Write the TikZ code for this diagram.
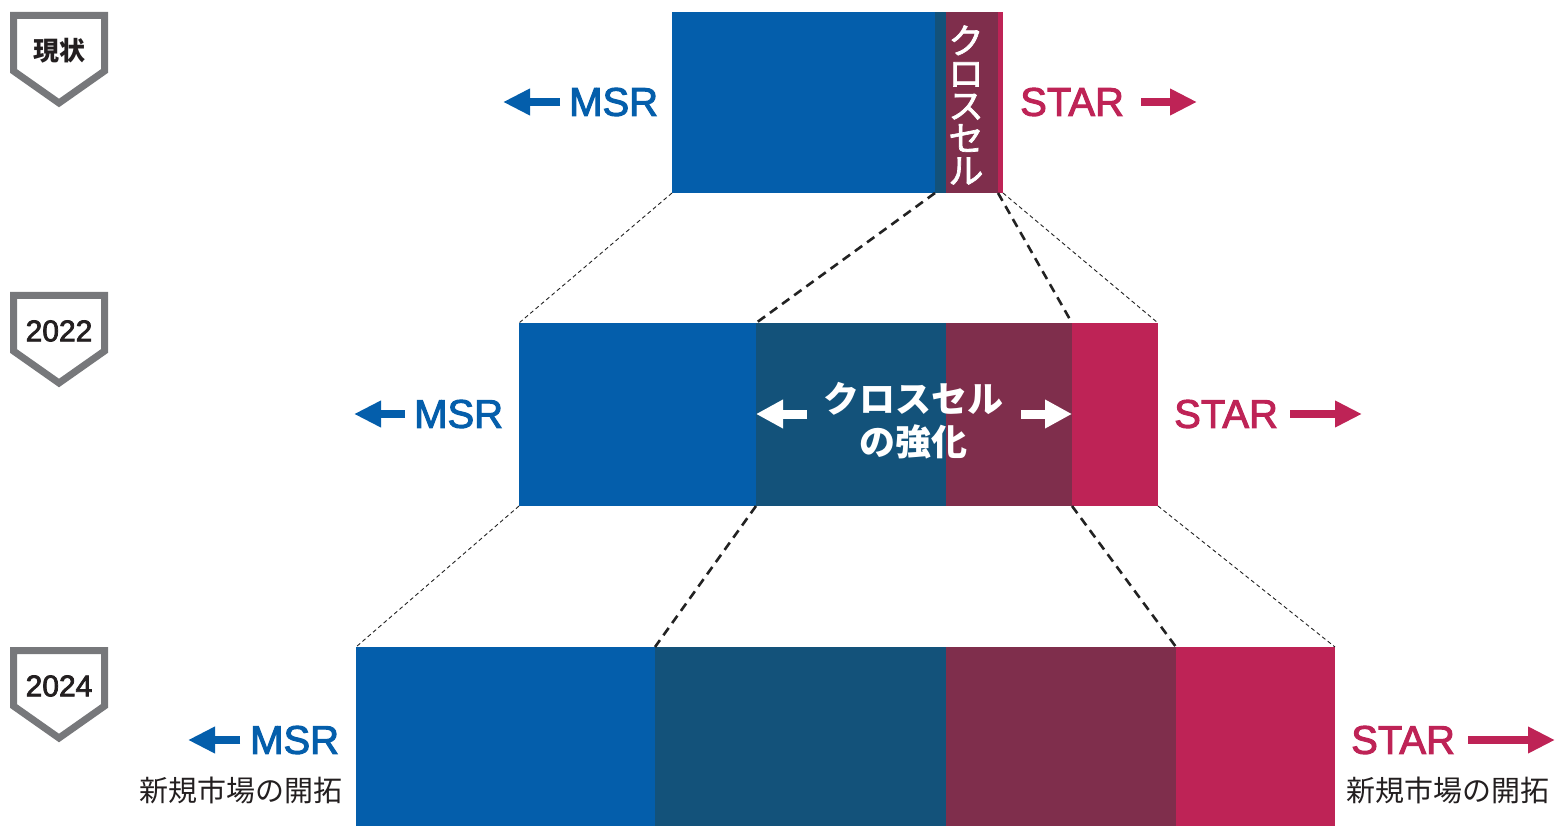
\documentclass[tikz,border=0pt]{standalone}
\usepackage{fontspec}
\setmainfont{Noto Sans CJK JP}
\newfontfamily\jpmed{Noto Sans CJK JP}[FakeBold=2]
\newfontfamily\lat{Liberation Sans}[FakeBold=2.5]
\usetikzlibrary{arrows.meta}
\definecolor{cblue}{HTML}{045EAB}
\definecolor{cteal}{HTML}{13527A}
\definecolor{cmaroon}{HTML}{7F2E4C}
\definecolor{cpink}{HTML}{BE2356}
\definecolor{cgrey}{HTML}{77787B}
\definecolor{ctext}{HTML}{231F20}
\definecolor{cdash}{HTML}{222222}
\tikzset{
  seg/.style={draw=none, inner sep=0pt, outer sep=0pt, anchor=north west},
  thindash/.style={draw=cdash, line width=0.9pt, dash pattern=on 4pt off 3pt},
  thickdash/.style={draw=cdash, line width=2.6pt, dash pattern=on 9pt off 6pt},
  fat/.style={line width=8.5pt, -{Triangle[length=27pt,width=25pt]}},
  whitearrow/.style={white, line width=9pt, -{Triangle[length=27pt,width=27pt]}},
  lbl/.style={inner sep=0pt, anchor=west, font=\lat\fontsize{40}{44}\selectfont},
  jp/.style={inner sep=0pt, text=ctext, font=\fontsize{29}{32}\selectfont},
  badgeline/.style={draw=cgrey, line width=7pt, miter limit=10, fill=white},
}
\newcommand\badge[3]{%
  \draw[badgeline] (13.5,#1+3.5) -- (104.5,#1+3.5) -- (104.5,#1+59) -- (59,#1+91) -- (13.5,#1+59) -- cycle;
  \node[inner sep=0pt, text=ctext] (#2) at (59,#1+39) {#3};
}
\begin{document}
\begin{tikzpicture}[x=1pt,y=-1pt]
\useasboundingbox (0,0) rectangle (1558,826);

% badges
\badge{12}{bA}{\fontsize{26}{28}\selectfont\bfseries 現状}
\badge{292}{bB}{\lat\fontsize{30}{32}\selectfont 2022}
\badge{647}{bC}{\lat\fontsize{30}{32}\selectfont 2024}

% top bar
\node[seg, fill=cblue,   minimum width=263pt, minimum height=181pt] (t1) at (672,12) {};
\node[seg, fill=cteal,   minimum width=11pt,  minimum height=181pt] (t2) at (935,12) {};
\node[seg, fill=cmaroon, minimum width=52pt,  minimum height=181pt] (t3) at (946,12) {};
\node[seg, fill=cpink,   minimum width=5pt,   minimum height=181pt] (t4) at (998,12) {};
\node[inner sep=0pt, text=white, align=center, font=\jpmed\fontsize{35}{32.5}\selectfont] (cs) at (966,105) {ク\\ロ\\ス\\セ\\ル};

% middle bar
\node[seg, fill=cblue,   minimum width=237pt, minimum height=183pt] (m1) at (519,323) {};
\node[seg, fill=cteal,   minimum width=190pt, minimum height=183pt] (m2) at (756,323) {};
\node[seg, fill=cmaroon, minimum width=126pt, minimum height=183pt] (m3) at (946,323) {};
\node[seg, fill=cpink,   minimum width=86pt,  minimum height=183pt] (m4) at (1072,323) {};
\node[inner sep=0pt, text=white, align=center, font=\fontsize{36}{43}\selectfont\bfseries] (csk) at (913,421) {クロスセル\\の強化};
\draw[whitearrow] (807,414) -- (m2.west |- 0,414);
\draw[whitearrow] (1021,414) -- (m4.west |- 0,414);

% bottom bar
\node[seg, fill=cblue,   minimum width=299pt, minimum height=179pt] (b1) at (356,647) {};
\node[seg, fill=cteal,   minimum width=291pt, minimum height=179pt] (b2) at (655,647) {};
\node[seg, fill=cmaroon, minimum width=230pt, minimum height=179pt] (b3) at (946,647) {};
\node[seg, fill=cpink,   minimum width=159pt, minimum height=179pt] (b4) at (1176,647) {};

% dashed guide lines
\draw[thindash]  (t1.south west) -- (m1.north west);
\draw[thindash]  (t4.south east) -- (m4.north east);
\draw[thickdash] (t2.south west) -- (m2.north west);
\draw[thickdash] (t4.south west) -- (m4.north west);
\draw[thindash]  (m1.south west) -- (b1.north west);
\draw[thindash]  (m4.south east) -- (b4.north east);
\draw[thickdash] (m2.south west) -- (b2.north west);
\draw[thickdash] (m4.south west) -- (b4.north west);

% labels top
\node[lbl, text=cblue] (msrA) at (569,102) {MSR};
\draw[fat, cblue] (560,102) -- (503,102);
\node[lbl, text=cpink] (starA) at (1020,102) {STAR};
\draw[fat, cpink] (1141,102) -- (1197,102);

% labels middle
\node[lbl, text=cblue] (msrB) at (414,414) {MSR};
\draw[fat, cblue] (405,414) -- (354,414);
\node[lbl, text=cpink] (starB) at (1174,414) {STAR};
\draw[fat, cpink] (1290,414) -- (1362,414);

% labels bottom
\node[lbl, text=cblue] (msrC) at (250,740) {MSR};
\draw[fat, cblue] (240,740) -- (188,740);
\node[lbl, text=cpink] (starC) at (1351,740) {STAR};
\draw[fat, cpink] (1468,740) -- (1555,740);
\node[jp] (newL) at (241,790) {新規市場の開拓};
\node[jp] (newR) at (1448,790) {新規市場の開拓};
\end{tikzpicture}
\end{document}
